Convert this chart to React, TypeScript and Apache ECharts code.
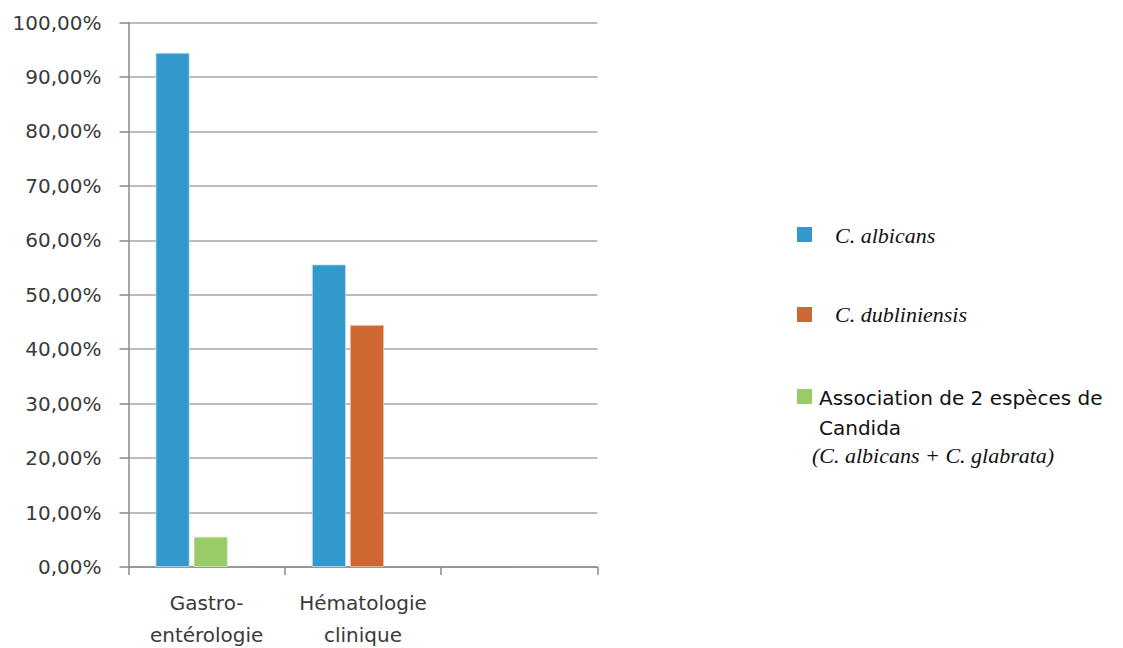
import React, { useEffect, useRef } from "react";
import * as echarts from "echarts";

// Services (x categories); the third slot is left empty on the axis
const categories = ["Gastro-\nentérologie", "Hématologie\nclinique", ""];

// Share of isolates per service, in %
const albicans = [94.44, 55.56, null];
const dubliniensis = [null, 44.44, null];
const association = [5.56, null, null];

const yTicks = { min: 0, max: 100, interval: 10 };

const seriesNames = ["C. albicans", "C. dubliniensis", "Association de 2 espèces de"];
const associationExtra = ["Candida", "(C. albicans + C. glabrata)"];

const colors = { albicans: "#3398CC", dubliniensis: "#CF6732", association: "#99CC66" };

const SANS = "DejaVu Sans";
const SERIF = "Liberation Serif";

export default function App() {
  const ref = useRef<HTMLDivElement>(null);

  useEffect(() => {
    if (!ref.current) return;
    const chart = echarts.init(ref.current, undefined, { renderer: "svg" });

    const fmt = (v: number) => v.toFixed(2).replace(".", ",") + "%";

    const legendX = 797;
    const sq = 15;

    chart.setOption({
      animation: false,
      backgroundColor: "#ffffff",
      grid: {
        left: 128.5,
        right: 525.5,
        top: 22.5,
        bottom: 81,
        containLabel: false,
        outerBoundsMode: "none",
      },
      xAxis: {
        type: "category",
        data: categories,
        boundaryGap: true,
        axisLine: { show: true, lineStyle: { color: "#8a8a8a", width: 1.5 } },
        axisTick: { show: true, length: 8, lineStyle: { color: "#8a8a8a", width: 1.5 } },
        axisLabel: {
          interval: 0,
          margin: 20,
          fontFamily: SANS,
          fontSize: 20,
          lineHeight: 32,
          color: "#3a3a3a",
        },
      },
      yAxis: {
        type: "value",
        min: yTicks.min,
        max: yTicks.max,
        interval: yTicks.interval,
        axisLine: { show: true, lineStyle: { color: "#8a8a8a", width: 1.5 } },
        axisTick: { show: true, length: 9, lineStyle: { color: "#8a8a8a", width: 1.5 } },
        splitLine: { show: true, lineStyle: { color: "#a6a6a6", width: 1.5 } },
        axisLabel: {
          margin: 27,
          fontFamily: SANS,
          fontSize: 20,
          color: "#3a3a3a",
          formatter: fmt,
        },
      },
      series: [
        {
          name: seriesNames[0],
          type: "bar",
          data: albicans,
          barWidth: 34,
          barGap: "12%",
          itemStyle: { color: colors.albicans, borderColor: "#bfe0f2", borderWidth: 0.8 },
        },
        {
          name: seriesNames[1],
          type: "bar",
          stack: "second",
          data: dubliniensis,
          barWidth: 34,
          barGap: "12%",
          itemStyle: { color: colors.dubliniensis, borderColor: "#f0c3a8", borderWidth: 0.8 },
        },
        {
          name: seriesNames[2],
          type: "bar",
          stack: "second",
          data: association,
          barWidth: 34,
          barGap: "12%",
          itemStyle: { color: colors.association, borderColor: "#d6ecc0", borderWidth: 0.8 },
        },
        {
          // empty third slot in each group
          name: "slot",
          type: "bar",
          data: [],
          barWidth: 26,
          barGap: "12%",
        },
      ],
      graphic: [
        { type: "rect", shape: { x: legendX, y: 227, width: sq, height: sq }, style: { fill: colors.albicans } },
        {
          type: "text",
          x: 835,
          y: 235,
          style: {
            text: seriesNames[0],
            font: `italic 22px "${SERIF}"`,
            fill: "#111111",
            verticalAlign: "middle",
          },
        },
        { type: "rect", shape: { x: legendX, y: 307, width: sq, height: sq }, style: { fill: colors.dubliniensis } },
        {
          type: "text",
          x: 835,
          y: 314,
          style: {
            text: seriesNames[1],
            font: `italic 22px "${SERIF}"`,
            fill: "#111111",
            verticalAlign: "middle",
          },
        },
        { type: "rect", shape: { x: legendX, y: 389, width: sq, height: sq }, style: { fill: colors.association } },
        {
          type: "text",
          x: 819,
          y: 398,
          style: {
            text: seriesNames[2],
            font: `20px "${SANS}"`,
            fill: "#111111",
            verticalAlign: "middle",
          },
        },
        {
          type: "text",
          x: 819,
          y: 428,
          style: {
            text: associationExtra[0],
            font: `20px "${SANS}"`,
            fill: "#111111",
            verticalAlign: "middle",
          },
        },
        {
          type: "text",
          x: 812,
          y: 455,
          style: {
            text: associationExtra[1],
            font: `italic 22px "${SERIF}"`,
            fill: "#111111",
            verticalAlign: "middle",
          },
        },
      ],
    });

    return () => chart.dispose();
  }, []);

  return (
    <div
      ref={ref}
      style={{ position: "absolute", left: 0, top: 0, width: 1123, height: 648, background: "#fff" }}
    />
  );
}
